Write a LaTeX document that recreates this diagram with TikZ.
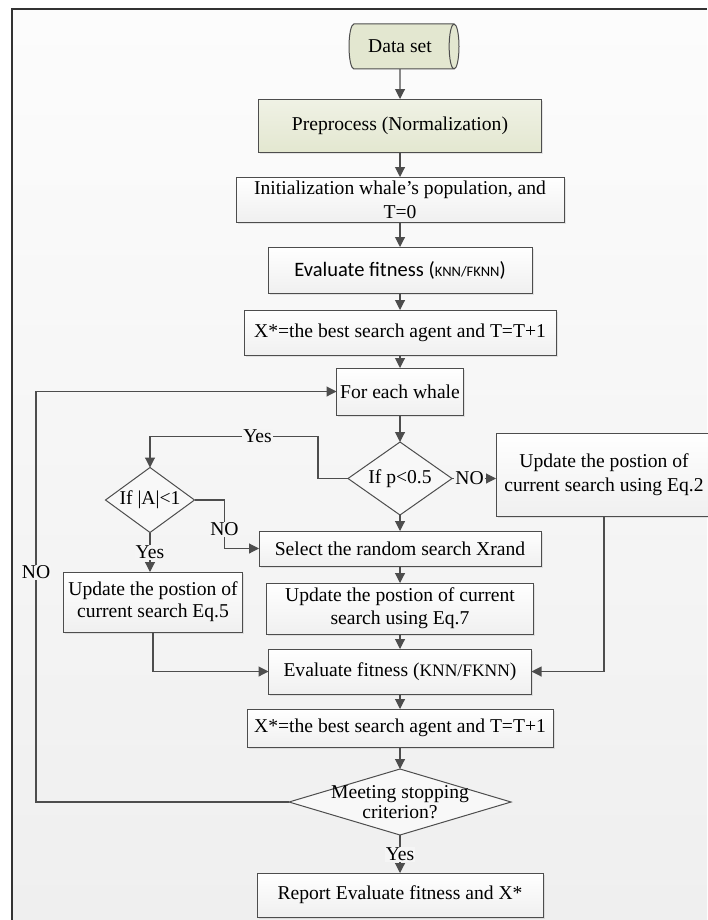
\documentclass[tikz,border=0pt]{standalone}
\usepackage{fontspec}
\setmainfont{Liberation Serif}
\newfontfamily\calibrifont{Carlito}
\usetikzlibrary{arrows.meta, positioning, shapes.geometric, shadows}
\definecolor{LineGray}{HTML}{4D4D4D}
\definecolor{PageTop}{HTML}{FCFCFC}
\definecolor{PageGray}{HTML}{EFEFEF}
\definecolor{DataFill}{HTML}{E3E7D0}
\newcommand{\flowfont}{\fontsize{19.6}{23}\selectfont}
\tikzset{
  procbox/.style={draw=LineGray, line width=1pt, top color=white, bottom color=black!6,
    align=center, inner xsep=2pt, inner ysep=1pt, outer sep=0pt, font=\flowfont,
    drop shadow={opacity=0.18, shadow xshift=1.5pt, shadow yshift=-1.5pt}},
  databox/.style={procbox, top color=DataFill!55, bottom color=DataFill},
  decide/.style={diamond, draw=LineGray, line width=1pt, fill=white!55!PageGray,
    shape aspect=1.4, inner sep=0pt, outer sep=0pt, font=\flowfont, align=center},
  store/.style={cylinder, draw=LineGray, line width=1pt, fill=DataFill, aspect=0.5,
    outer sep=0pt, font=\flowfont},
  flow/.style={-{Triangle[length=10pt, width=10pt]}, line width=1.1pt, draw=LineGray},
  tag/.style={fill=black!4, inner sep=1pt, font=\flowfont},
}

\begin{document}
\begin{tikzpicture}[x=1pt, y=-1pt]
  \useasboundingbox (0,0) rectangle (707,920);
  \shade[top color=PageTop, bottom color=PageGray] (12,9) rectangle (707,920);
  \draw[draw=black!80, line width=1.5pt] (12,920) -- (12,9) -- (707,9);

  % main column
  \node[store, minimum width=45pt, minimum height=110pt] (data) at (400,46.5) {Data set};
  \node[databox, minimum width=283pt, minimum height=53pt, below=30pt of data] (prep) {Preprocess (Normalization)};
  \node[procbox, minimum width=328pt, minimum height=45pt, below=25pt of prep, font=\fontsize{19.6}{24}\selectfont] (init) {Initialization whale's population, and\\T=0};
  \node[procbox, minimum width=264pt, minimum height=46pt, below=25pt of init] (eval1)
    {\calibrifont\fontsize{20.5}{24}\selectfont Evaluate fitness (\fontsize{14.5}{16}\selectfont KNN/FKNN\fontsize{20.5}{24}\selectfont)};
  \node[procbox, minimum width=312pt, minimum height=45pt, below=17pt of eval1] (best1) {X*=the best search agent and T=T+1};
  \node[procbox, minimum width=127pt, minimum height=47pt, below=13pt of best1] (few) {For each whale};
  \node[decide, minimum width=104pt, minimum height=73pt, below=27pt of few] (pcheck) {If p<0.5};
  \node[procbox, minimum width=282pt, minimum height=35pt, below=16pt of pcheck] (sel) {Select the random search Xrand};
  \node[procbox, minimum width=267pt, minimum height=51pt, below=17pt of sel] (eq7) {Update the postion of current\\search using Eq.7};
  \node[procbox, minimum width=263pt, minimum height=45pt, below=15pt of eq7] (eval2)
    {Evaluate fitness (\fontsize{17.5}{20}\selectfont KNN/FKNN\flowfont)};
  \node[procbox, minimum width=306pt, minimum height=38pt, below=15pt of eval2] (best2) {X*=the best search agent and T=T+1};
  \node[decide, minimum width=222pt, minimum height=66pt, below=22pt of best2,
    label={[font=\fontsize{19.6}{20}\selectfont, align=center]center:Meeting stopping\\criterion?}] (meet) {};
  \node[procbox, minimum width=286pt, minimum height=44pt, below=38pt of meet] (report) {Report Evaluate fitness and X*};

  % side branches
  \node[procbox, minimum width=216pt, minimum height=83pt, font=\fontsize{19.6}{24}\selectfont] (eq2) at (604,474.5) {Update the postion of\\current search using Eq.2};
  \node[decide, minimum width=89pt, minimum height=65pt] (acheck) at (150,500) {If |A|<1};
  \node[procbox, minimum width=179pt, minimum height=60pt, font=\fontsize{19.6}{22}\selectfont] (eq5) at (153,602) {Update the postion of\\current search Eq.5};

  \draw[flow] (data) -- (prep);
  \draw[flow] (prep) -- (init);
  \draw[flow] (init) -- (eval1);
  \draw[flow] (eval1) -- (best1);
  \draw[flow] (best1) -- (few);
  \draw[flow] (few) -- (pcheck);
  \draw[flow] (pcheck) -- (sel);
  \draw[flow] (sel) -- (eq7);
  \draw[flow] (eq7) -- (eval2);
  \draw[flow] (eval2) -- (best2);
  \draw[flow] (best2) -- (meet);
  \draw[flow] (meet) -- node[tag]{Yes} (report);

  \draw[flow] (pcheck.east) -- node[tag, pos=0.4]{NO} (pcheck.east -| eq2.west);
  \draw[flow] (pcheck.west) -- ++(-30,0) -- ++(0,-42) -| node[tag, pos=0.18]{Yes} (acheck.north);
  \draw[flow] (acheck.east) -- ++(30,0) |- node[tag, pos=0.3]{NO} (sel.west);
  \draw[flow] (acheck.south) -- node[tag]{Yes} (acheck.south |- eq5.north);
  \draw[flow] (eq5.south) |- (eval2.west);
  \draw[flow] (eq2.south) |- (eval2.east);
  \draw[flow] (meet.west) -- ++(-253,0) |- node[tag, pos=0.28]{NO} (few.west);
\end{tikzpicture}
\end{document}
